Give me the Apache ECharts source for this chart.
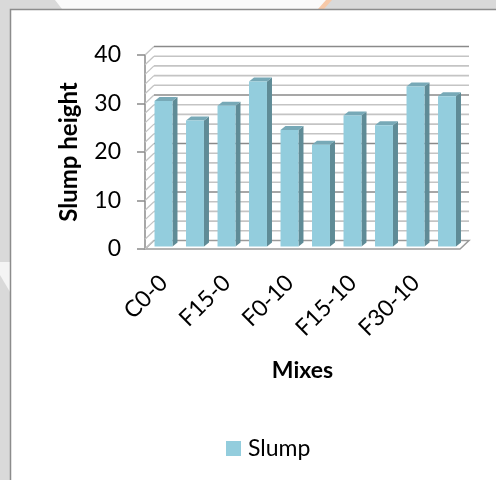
<!DOCTYPE html>
<html><head><meta charset="utf-8">
<script src="https://cdn.jsdelivr.net/npm/echarts@6/dist/echarts.min.js"></script>
<style>html,body{margin:0;padding:0;background:#fff}#c{width:496px;height:480px}</style>
</head><body><div id="c"></div>
<script>
const categories = ['C0-0','F7.5-0','F15-0','F30-0','F0-10','F7.5-10','F15-10','F22.5-10','F30-10','F45-10'];
const slump = [30, 26, 29, 34, 24, 21, 27, 25, 33, 31];
const yMin = 0, yMax = 40, yStep = 10, yMinorStep = 2;
const seriesName = 'Slump';
const xTitle = 'Mixes';
const yTitle = 'Slump height';

const FONT = 'Lato, "Open Sans", sans-serif';
const WALL_D = [9, -8.5];
const BAR_SHIFT = [2.75, -2.5];
const BAR_D = [5, -4];
const LABEL_OFF = [3, 30];

const chart = echarts.init(document.getElementById('c'), null, {renderer: 'canvas'});

function renderWalls(params, api) {
  const cs = params.coordSys;
  const x0 = cs.x, x1 = cs.x + cs.width;
  const y0 = api.coord([0, yMin])[1];
  const ch = [];
  ch.push({type: 'polygon', shape: {points: [[x0, y0], [x1, y0], [x1 + WALL_D[0], y0 + WALL_D[1]], [x0 + WALL_D[0], y0 + WALL_D[1]]]},
    style: {fill: '#fff', stroke: '#9a9a9a', lineWidth: 1.5}});
  for (let v = yMin; v <= yMax + 1e-9; v += yMinorStep) {
    const y = api.coord([0, v])[1];
    const major = Math.abs(v % yStep) < 1e-9;
    const col = major ? '#8a8a8a' : '#c4c4c4';
    ch.push({type: 'line', shape: {x1: x0, y1: y, x2: x0 + WALL_D[0], y2: y + WALL_D[1]}, style: {stroke: '#c4c4c4', lineWidth: 1.3}});
    if (v > yMin) ch.push({type: 'line', shape: {x1: x0 + WALL_D[0], y1: y + WALL_D[1], x2: x1 + WALL_D[0], y2: y + WALL_D[1]}, style: {stroke: col, lineWidth: 1.6}});
  }
  return {type: 'group', children: ch};
}

function renderBar(params, api) {
  const i = api.value(0), v = api.value(1);
  const top = api.coord([i, v]);
  const base = api.coord([i, 0]);
  const bw = api.size([1, 0])[0] * 0.57;
  const xa = top[0] - bw / 2 + BAR_SHIFT[0], xb = xa + bw;
  const yT = top[1] + BAR_SHIFT[1], yB = base[1] + BAR_SHIFT[1];
  return {type: 'group', children: [
    {type: 'polygon', shape: {points: [[xb, yB], [xb + BAR_D[0], yB + BAR_D[1]], [xb + BAR_D[0], yT + BAR_D[1]], [xb, yT]]}, style: {fill: '#5f8b96'}},
    {type: 'polygon', shape: {points: [[xa, yT], [xb, yT], [xb + BAR_D[0], yT + BAR_D[1]], [xa + BAR_D[0], yT + BAR_D[1]]]}, style: {fill: '#77a9b7'}},
    {type: 'rect', shape: {x: xa, y: yT, width: bw, height: yB - yT}, style: {fill: '#93cddd'}}
  ]};
}

function renderLabel(params, api) {
  const i = api.value(0);
  if (i % 2 !== 0) return null;
  const p = api.coord([i, 0]);
  return {type: 'text', x: p[0] + LABEL_OFF[0], y: p[1] + LABEL_OFF[1], rotation: Math.PI / 4,
    style: {text: categories[i], font: '23px ' + FONT, fill: '#000', textAlign: 'right', textVerticalAlign: 'middle'}};
}

chart.setOption({
  animation: false,
  backgroundColor: '#fff',
  graphic: [
    {type: 'rect', z: -100, shape: {x: 0, y: 0, width: 496, height: 480}, style: {fill: '#d9d9d9'}},
    {type: 'polygon', z: -99, shape: {points: [[55, 0], [330, 0], [322, 9], [62, 9]]}, style: {fill: '#fafafa'}},
    {type: 'polygon', z: -99, shape: {points: [[318, 9], [326, 0], [332, 0], [324, 9]]}, style: {fill: '#f7c9a8'}},
    {type: 'polygon', z: -99, shape: {points: [[0, 262], [10, 262], [10, 292], [0, 275]]}, style: {fill: '#f4f4f4'}},
    {type: 'rect', z: -98, shape: {x: 10.5, y: 9.5, width: 490, height: 475}, style: {fill: '#fff', stroke: '#8c8c8c', lineWidth: 1.5}}
  ],
  grid: {left: 145, right: 36, top: 55, bottom: 231, containLabel: false},
  legend: {data: [seriesName], left: 221, top: 432, icon: 'rect', itemWidth: 15, itemHeight: 15,
    textStyle: {fontFamily: FONT, fontSize: 23, color: '#000', padding: [0, 0, 0, 2]}},
  xAxis: {type: 'category', data: categories, boundaryGap: true,
    axisLine: {show: false}, axisTick: {show: false}, axisLabel: {show: false}, splitLine: {show: false},
    name: xTitle, nameLocation: 'middle', nameGap: 110,
    nameTextStyle: {fontFamily: FONT, fontSize: 23, fontWeight: 'bold', color: '#000'}},
  yAxis: {type: 'value', min: yMin, max: yMax, interval: yStep,
    axisLine: {show: true, lineStyle: {color: '#8a8a8a', width: 1.5}},
    axisTick: {show: true, length: 8, lineStyle: {color: '#8a8a8a', width: 1.5}},
    axisLabel: {fontFamily: FONT, fontSize: 23, color: '#000', margin: 24},
    splitLine: {show: false},
    name: yTitle, nameLocation: 'middle', nameGap: 64,
    nameTextStyle: {fontFamily: FONT, fontSize: 24, fontWeight: 'bold', color: '#000'}},
  series: [
    {type: 'custom', name: 'walls', z: 1, silent: true, data: [[0, 0]], renderItem: renderWalls, clip: false},
    {type: 'custom', name: seriesName, z: 3, data: slump.map((v, i) => [i, v]), encode: {x: 0, y: 1},
      itemStyle: {color: '#93cddd'}, renderItem: renderBar, clip: false},
    {type: 'custom', name: 'labels', z: 3, silent: true, data: categories.map((c, i) => [i, 0]), renderItem: renderLabel, clip: false}
  ]
});
</script></body></html>
